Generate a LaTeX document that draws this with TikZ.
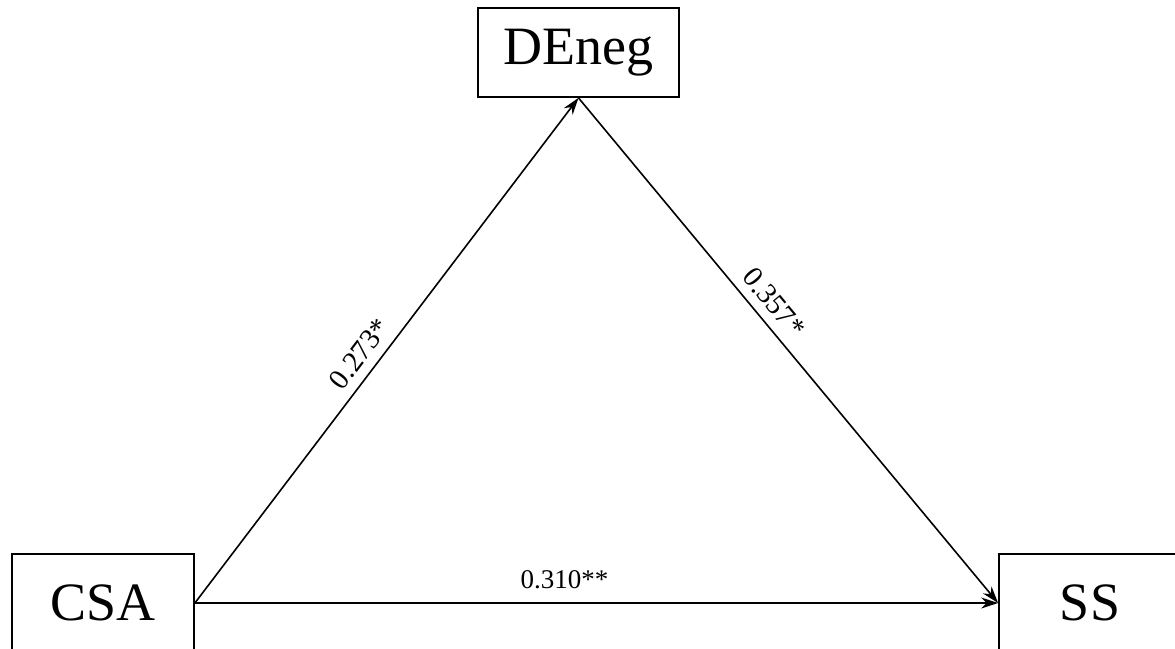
\documentclass[tikz,border=0pt]{standalone}
\usepackage{fontspec}
\setmainfont{Liberation Serif}
\usetikzlibrary{arrows.meta}
\begin{document}
\begin{tikzpicture}[x=1pt,y=-1pt,
  box/.style={draw,line width=1.8pt,inner sep=0pt,font=\fontsize{54}{60}\selectfont},
  conn/.style={line width=1.6pt,-{Stealth[length=17pt,width=11pt]}},
  lab/.style={font=\fontsize{29}{32}\selectfont,sloped,above,inner sep=9pt},
  hlab/.style={font=\fontsize{27}{30}\selectfont,above,inner sep=13pt}]
\useasboundingbox (0,0) rectangle (1175,648);
\node[box,minimum width=201pt,minimum height=89pt] (DE) at (578.5,52.5) {DEneg};
\node[box,minimum width=182pt,minimum height=98pt] (CSA) at (103,603) {CSA};
\node[box,minimum width=182pt,minimum height=98pt] (SS) at (1090,603) {SS};
\draw[conn] (CSA.east) -- node[lab,pos=0.47] {0.273*} (DE.south);
\draw[conn] (DE.south) -- node[lab,pos=0.43] {0.357*} (SS.west);
\draw[conn] (CSA.east) -- node[hlab,pos=0.46] {0.310**} (SS.west);
\end{tikzpicture}
\end{document}
